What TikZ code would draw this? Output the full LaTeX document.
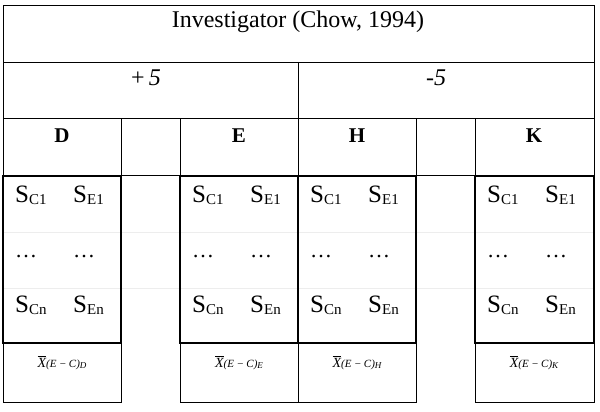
\documentclass[tikz,border=0pt]{standalone}
\usepackage{fontspec}
\setmainfont{Liberation Serif}
\newcommand\Ssub[1]{{\fontsize{25}{30}\selectfont S}\raisebox{-2pt}{\fontsize{15}{18}\selectfont #1}}
\newcommand\Xbar[1]{$\overline{\mbox{\fontsize{14}{16}\selectfont\itshape X}}$\raisebox{-0.5pt}{\fontsize{11}{13}\selectfont\itshape (E\hspace{2.5pt}\char"2212\hspace{2.5pt}C)}\raisebox{-1pt}{\fontsize{9}{10}\selectfont\itshape #1}}
\tikzset{
  thinrule/.style={line width=0.9pt},
  thickbox/.style={line width=2.4pt},
  faintrule/.style={line width=0.6pt, black!7},
  txt/.style={anchor=base, inner sep=0pt},
}
\begin{document}
\begin{tikzpicture}[x=1pt,y=-1pt]
\useasboundingbox (0,0) rectangle (600,412);
% faint inner rules
\draw[faintrule] (3,232) -- (594,232);
\draw[faintrule] (3,288) -- (594,288);
% header rows
\draw[thinrule] (3,5) rectangle (594,175);
\draw[thinrule] (3,62) -- (594,62);
\draw[thinrule] (3,118) -- (594,118);
\draw[thinrule] (298,62) -- (298,175);
\draw[thinrule] (121,118) -- (121,175);
\draw[thinrule] (180,118) -- (180,175);
\draw[thinrule] (416,118) -- (416,175);
\draw[thinrule] (475,118) -- (475,175);
% bottom cells
\foreach \a/\b in {3/121,180/298,298/416,475/594}
  \draw[thinrule] (\a,343) rectangle (\b,402);
% thick boxes
\foreach \a/\b in {3/121,180/298,298/416,475/594}
  \draw[thickbox] (\a,176) rectangle (\b,343);
% texts
\node[txt] (title) at (298,28) {\fontsize{24}{28}\selectfont Investigator (Chow, 1994)};
\node[txt] (plus) at (146,85) {\fontsize{24}{28}\selectfont +\,\textit{5}};
\node[txt] (minus) at (436,85) {\fontsize{24}{28}\selectfont -\textit{5}};
\node[txt] (hD) at (62,142) {\fontsize{21}{25}\selectfont\bfseries D};
\node[txt] (hE) at (239,142) {\fontsize{21}{25}\selectfont\bfseries E};
\node[txt] (hH) at (357,142) {\fontsize{21}{25}\selectfont\bfseries H};
\node[txt] (hK) at (534,142) {\fontsize{21}{25}\selectfont\bfseries K};
\foreach \n/\a in {D/3,E/180,H/298,K/475}{
  \node[txt, anchor=base west] (c1\n) at (\a+12,202) {\Ssub{C1}};
  \node[txt, anchor=base west] (e1\n) at (\a+70,202) {\Ssub{E1}};
  \node[txt, anchor=base west] (cd\n) at (\a+12,257) {\fontsize{22}{26}\selectfont\dots};
  \node[txt, anchor=base west] (ed\n) at (\a+70,257) {\fontsize{22}{26}\selectfont\dots};
  \node[txt, anchor=base west] (cn\n) at (\a+12,312) {\Ssub{Cn}};
  \node[txt, anchor=base west] (en\n) at (\a+70,312) {\Ssub{En}};
}
\node[txt] (xD) at (62,367) {\Xbar{D}};
\node[txt] (xE) at (239,367) {\Xbar{E}};
\node[txt] (xH) at (357,367) {\Xbar{H}};
\node[txt] (xK) at (534,367) {\Xbar{K}};
\end{tikzpicture}
\end{document}
